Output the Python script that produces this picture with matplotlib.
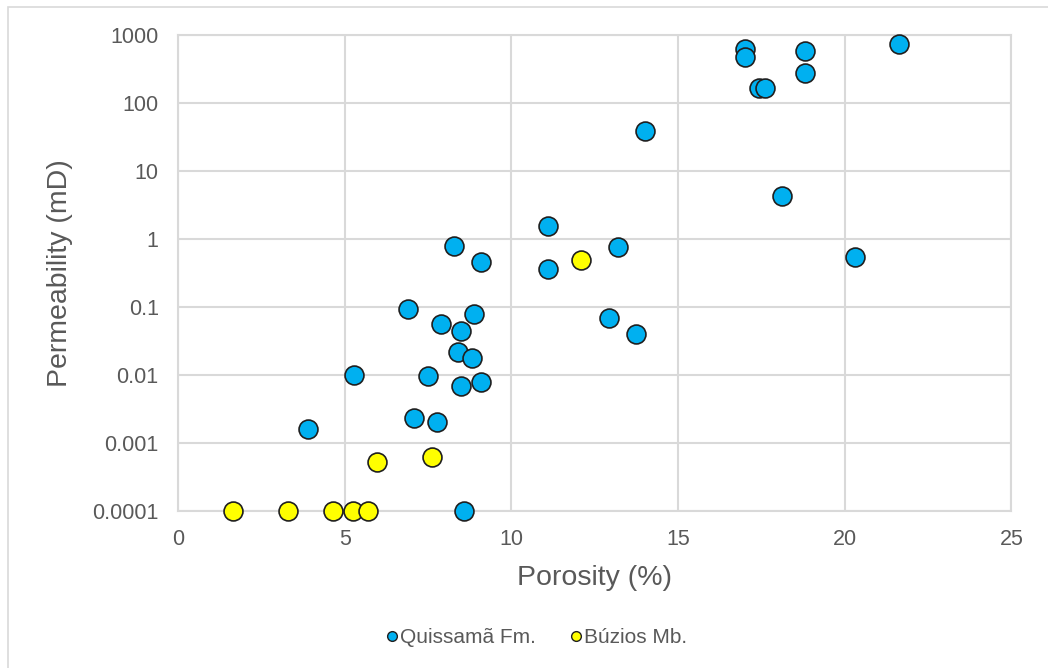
import matplotlib.pyplot as plt
from matplotlib.patches import Rectangle
from matplotlib.lines import Line2D

plt.rcParams["font.family"] = ["Liberation Sans", "DejaVu Sans"]

# Quissamã Fm. samples
quissama_phi = [17.02, 17.02, 18.82, 18.82, 17.44, 17.62, 21.64, 14.02, 18.13,
                11.10, 13.21, 20.32, 11.10, 8.28, 9.09, 6.90, 7.89, 8.88, 8.49,
                12.94, 13.75, 8.40, 8.82, 5.28, 7.50, 8.49, 9.09, 7.08, 7.77,
                3.90, 8.58]
quissama_k = [620, 470, 580, 275, 166, 166, 738, 38.7, 4.3,
              1.55, 0.76, 0.54, 0.36, 0.79, 0.46, 0.094, 0.056, 0.079, 0.044,
              0.069, 0.040, 0.0218, 0.0178, 0.0100, 0.0097, 0.0069, 0.0079,
              0.00233, 0.00204, 0.00161, 0.0001]

# Búzios Mb. samples
buzios_phi = [1.65, 3.30, 4.65, 5.25, 5.70, 5.97, 7.62, 12.09]
buzios_k = [0.0001, 0.0001, 0.0001, 0.0001, 0.0001, 0.00053, 0.00062, 0.49]

x_ticks = [0, 5, 10, 15, 20, 25]
y_ticks = [0.0001, 0.001, 0.01, 0.1, 1, 10, 100, 1000]
y_tick_labels = ["0.0001", "0.001", "0.01", "0.1", "1", "10", "100", "1000"]

BLUE = "#00B0F0"
YELLOW = "#FFFF00"
EDGE = "#1f1f1f"
GRID = "#d9d9d9"
TEXT = "#595959"

fig = plt.figure(figsize=(10.48, 6.68), dpi=100)
fig.patches.append(Rectangle((8 / 1048, -0.1), 1.2, 1.1 - 7 / 668,
                             transform=fig.transFigure, fill=False,
                             edgecolor=GRID, lw=1.2))
ax = fig.add_axes([0.170, 0.235, 0.795, 0.713])

ax.scatter(quissama_phi, quissama_k, s=185, c=BLUE, edgecolors=EDGE,
           linewidths=1.2, zorder=3, clip_on=False)
ax.scatter(buzios_phi, buzios_k, s=185, c=YELLOW, edgecolors=EDGE,
           linewidths=1.2, zorder=4, clip_on=False)

ax.set_yscale("log")
ax.set_xlim(0, 25)
ax.set_ylim(0.0001, 1000)
ax.set_xticks(x_ticks)
ax.set_xticklabels([str(t) for t in x_ticks])
ax.set_yticks(y_ticks)
ax.set_yticklabels(y_tick_labels)
ax.minorticks_off()
ax.tick_params(length=0, labelsize=15.5, labelcolor=TEXT)
ax.tick_params(axis="x", pad=13)
ax.tick_params(axis="y", pad=14)

ax.grid(True, color=GRID, lw=1.5, zorder=0)
ax.set_axisbelow(True)
for sp in ax.spines.values():
    sp.set_color(GRID)
    sp.set_linewidth(1.5)

ax.set_xlabel("Porosity (%)", fontsize=20.5, color=TEXT, labelpad=11)
ax.set_ylabel("Permeability (mD)", fontsize=20.5, color=TEXT, labelpad=14)

handles = [
    Line2D([], [], ls="none", marker="o", ms=7, mfc=BLUE, mec=EDGE, mew=1.0),
    Line2D([], [], ls="none", marker="o", ms=7, mfc=YELLOW, mec=EDGE, mew=1.0),
]
fig.legend(handles, ["Quissamã Fm.", "Búzios Mb."], loc="center",
           bbox_to_anchor=(0.512, 0.045), ncol=2, frameon=False, fontsize=15,
           labelcolor=TEXT, handlelength=0.6, handletextpad=0.1,
           columnspacing=1.6)

fig.savefig("out.png", dpi=100)
